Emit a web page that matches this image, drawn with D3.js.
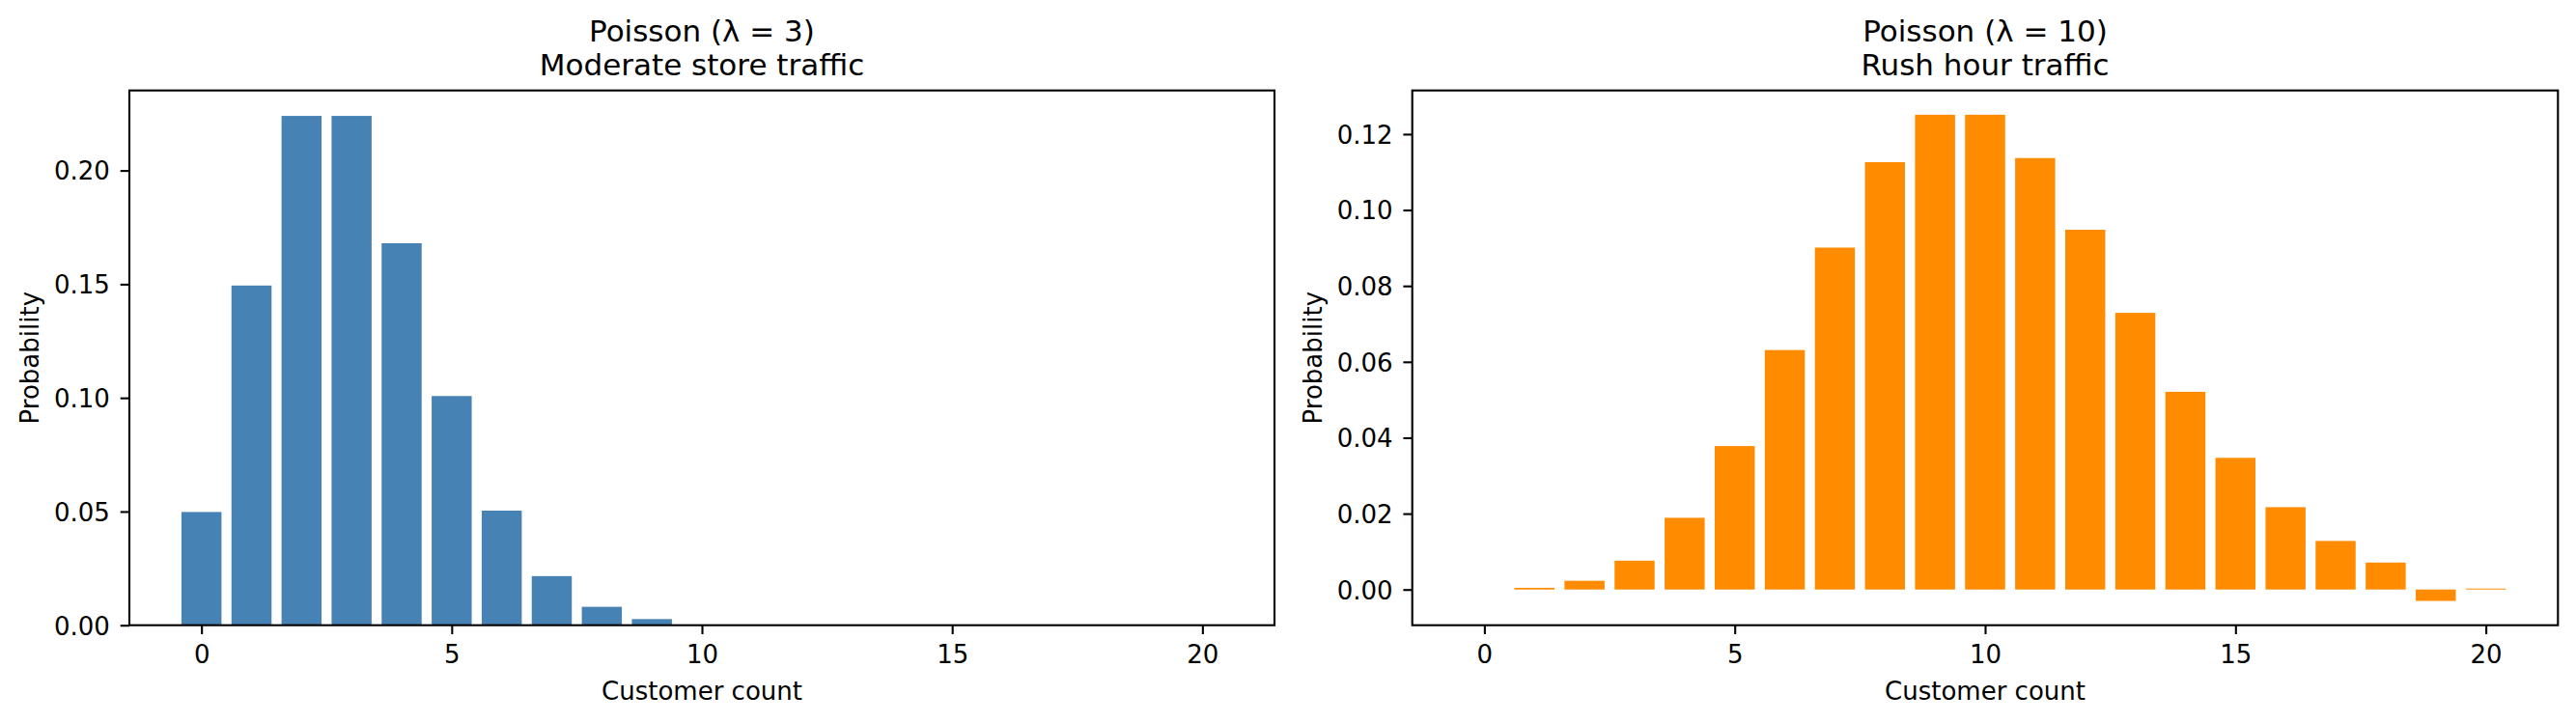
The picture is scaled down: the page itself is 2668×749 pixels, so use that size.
<!DOCTYPE html>
<html>
<head>
<meta charset="utf-8">
<script src="https://cdn.jsdelivr.net/npm/d3@7"></script>
<style>
  html, body { margin: 0; padding: 0; background: #fff; }
  svg { display: block; }
  text { font-family: "DejaVu Sans", sans-serif; fill: #000; }
</style>
</head>
<body>
<svg id="chart" width="2668" height="749"></svg>
<script>
// ---- Data ----
const counts = d3.range(0, 21); // customer counts 0..20

const lowTrafficProb = [
  0.0498, 0.1494, 0.2240, 0.2240, 0.1680, 0.1008, 0.0504, 0.0216, 0.0081, 0.0027,
  0, 0, 0, 0, 0, 0, 0, 0, 0, 0, 0
];

const rushTrafficProb = [
  0, 0.00045, 0.0023, 0.0076, 0.0189, 0.0378, 0.0631, 0.0901, 0.1126, 0.1251,
  0.1251, 0.1137, 0.0948, 0.0729, 0.0521, 0.0347, 0.0217, 0.0128, 0.0071, -0.0030,
  0.00025
];

const xTicks = [0, 5, 10, 15, 20];
const leftYTicks = [0.00, 0.05, 0.10, 0.15, 0.20];
const rightYTicks = [0.00, 0.02, 0.04, 0.06, 0.08, 0.10, 0.12];

const panels = [
  { title1: "Poisson (λ = 3)", title2: "Moderate store traffic", values: lowTrafficProb,
    yTicks: leftYTicks, color: "#4682b4", left: 134, right: 1320, ylabelX: 40 },
  { title1: "Poisson (λ = 10)", title2: "Rush hour traffic", values: rushTrafficProb,
    yTicks: rightYTicks, color: "#ff8c00", left: 1462.7, right: 2649.3, ylabelX: 1369 }
];

// ---- Layout ----
const plotTop = 93.7, plotBottom = 647.7;
const barWidth = 0.8;
const tickLen = 9.3, tickPad = 9.3;
const tickFont = 26, labelFont = 26, titleFont = 31;

const svg = d3.select("#chart");

panels.forEach(p => {
  // matplotlib-like autoscale with 5% margins, sticky at 0 for bars
  const xMin = d3.min(counts) - barWidth / 2, xMax = d3.max(counts) + barWidth / 2;
  const xSpan = xMax - xMin;
  const x = d3.scaleLinear().domain([xMin - 0.05 * xSpan, xMax + 0.05 * xSpan]).range([p.left, p.right]);

  const vMin = Math.min(0, d3.min(p.values)), vMax = d3.max(p.values);
  const vSpan = vMax - vMin;
  const y0 = vMin < 0 ? vMin - 0.05 * vSpan : 0;
  const y = d3.scaleLinear().domain([y0, vMax + 0.05 * vSpan]).range([plotBottom, plotTop]);

  const g = svg.append("g");

  // bars
  g.selectAll("rect.bar").data(counts).enter().append("rect")
    .attr("class", "bar")
    .attr("x", d => x(d - barWidth / 2))
    .attr("width", d => x(d + barWidth / 2) - x(d - barWidth / 2))
    .attr("y", d => y(Math.max(0, p.values[d])))
    .attr("height", d => Math.abs(y(p.values[d]) - y(0)))
    .attr("fill", p.color);

  // x axis
  const xAxis = d3.axisBottom(x).tickValues(xTicks).tickFormat(d3.format("d"))
    .tickSizeInner(tickLen).tickSizeOuter(0).tickPadding(tickPad);
  const gx = g.append("g").attr("transform", `translate(0,${plotBottom})`).call(xAxis);
  gx.select(".domain").remove();
  gx.selectAll(".tick line").attr("stroke", "#000").attr("stroke-width", 2.1);
  gx.selectAll(".tick text").attr("font-size", tickFont).attr("font-family", "DejaVu Sans")
    .attr("dy", null).attr("y", 687 - plotBottom).attr("fill", "#000");

  // y axis
  const yAxis = d3.axisLeft(y).tickValues(p.yTicks).tickFormat(d3.format(".2f"))
    .tickSizeInner(tickLen).tickSizeOuter(0).tickPadding(tickPad);
  const gy = g.append("g").attr("transform", `translate(${p.left},0)`).call(yAxis);
  gy.select(".domain").remove();
  gy.selectAll(".tick line").attr("stroke", "#000").attr("stroke-width", 2.1);
  gy.selectAll(".tick text").attr("font-size", tickFont).attr("font-family", "DejaVu Sans")
    .attr("dy", "0.36em").attr("x", -(tickLen + tickPad + 1.5)).attr("fill", "#000");

  // frame
  g.append("rect")
    .attr("x", p.left).attr("y", plotTop)
    .attr("width", p.right - p.left).attr("height", plotBottom - plotTop)
    .attr("fill", "none").attr("stroke", "#000").attr("stroke-width", 2.1);

  const cx = (p.left + p.right) / 2;
  // axis labels
  g.append("text").attr("x", cx).attr("y", 725).attr("text-anchor", "middle")
    .attr("font-size", labelFont).text("Customer count");
  g.append("text")
    .attr("transform", `translate(${p.ylabelX},${(plotTop + plotBottom) / 2}) rotate(-90)`)
    .attr("text-anchor", "middle").attr("font-size", labelFont).text("Probability");

  // titles
  g.append("text").attr("x", cx).attr("y", 43).attr("text-anchor", "middle")
    .attr("font-size", titleFont).text(p.title1);
  g.append("text").attr("x", cx).attr("y", 78).attr("text-anchor", "middle")
    .attr("font-size", titleFont).text(p.title2);
});
</script>
</body>
</html>
